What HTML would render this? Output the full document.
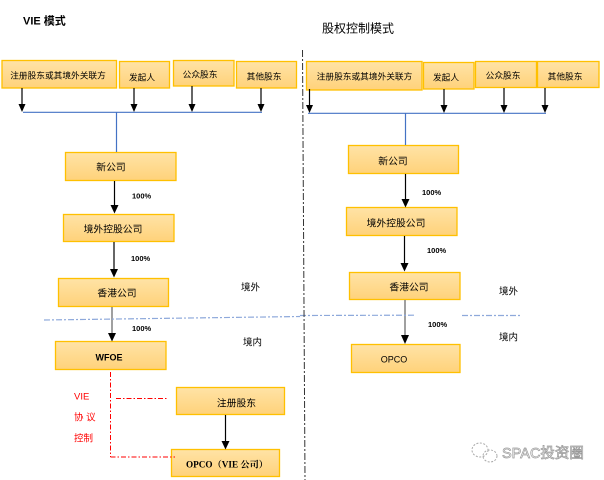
<!DOCTYPE html>
<html><head><meta charset="utf-8"><style>
html,body{margin:0;padding:0;background:#fff;}
svg{display:block;}
text{font-family:"Liberation Sans","Noto Sans CJK SC",sans-serif;}
</style></head><body>
<svg width="604" height="480" viewBox="0 0 604 480" xmlns="http://www.w3.org/2000/svg">
<defs>
<linearGradient id="g" x1="0" y1="0" x2="0" y2="1">
<stop offset="0" stop-color="#FFE3A6"/><stop offset="1" stop-color="#FFD27A"/>
</linearGradient>
</defs>
<rect width="604" height="480" fill="#fff"/>
<g fill="url(#g)" stroke="#FFC000" stroke-width="1.3">
<!-- left top -->
<rect x="2" y="60.5" width="114.5" height="27.5"/>
<rect x="119.5" y="61.5" width="50" height="26.5"/>
<rect x="173.5" y="60.5" width="60.5" height="25.5"/>
<rect x="236.5" y="61.5" width="60" height="26.5"/>
<!-- left chain -->
<rect x="65.5" y="152.5" width="110.5" height="28"/>
<rect x="63.5" y="214.5" width="110.5" height="27"/>
<rect x="58.5" y="278.5" width="110" height="28"/>
<rect x="55.5" y="341.5" width="110.5" height="28"/>
<rect x="176.5" y="387.5" width="108" height="27"/>
<rect x="171.5" y="449.5" width="108" height="27"/>
<!-- right top -->
<rect x="306.5" y="61.5" width="115.5" height="28.5"/>
<rect x="423.5" y="62.5" width="50.5" height="26.5"/>
<rect x="475.5" y="61.5" width="61" height="26"/>
<rect x="537.5" y="61.5" width="61.5" height="26"/>
<!-- right chain -->
<rect x="348.5" y="145.5" width="110" height="28"/>
<rect x="346.5" y="207.5" width="110.5" height="28"/>
<rect x="349.5" y="272.5" width="110.5" height="27"/>
<rect x="351.5" y="344.5" width="108.5" height="28"/>
</g>

<!-- blue connector lines -->
<g stroke="#4472C4" stroke-width="1.2" fill="none">
<line x1="23" y1="112.3" x2="262" y2="112.3"/>
<line x1="116.5" y1="112.3" x2="116.5" y2="152"/>
<line x1="308" y1="113.3" x2="546" y2="113.3"/>
<line x1="405.5" y1="113.3" x2="405.5" y2="145"/>
</g>

<!-- black arrows -->
<g stroke="#000" stroke-width="1.2">
<line x1="22" y1="88" x2="22" y2="104"/>
<line x1="134" y1="88" x2="134" y2="104"/>
<line x1="192" y1="86" x2="192" y2="104"/>
<line x1="261" y1="88" x2="261" y2="104"/>
<line x1="309.5" y1="89" x2="309.5" y2="105"/>
<line x1="444" y1="89" x2="444" y2="105"/>
<line x1="504" y1="88" x2="504" y2="105"/>
<line x1="545" y1="88" x2="545" y2="105"/>
<line x1="114.5" y1="181" x2="114.5" y2="206"/>
<line x1="114" y1="242" x2="114" y2="270"/>
<line x1="225.5" y1="415" x2="225.5" y2="442"/>
<line x1="405.5" y1="174" x2="405.5" y2="200"/>
<line x1="404.5" y1="236" x2="404.5" y2="264"/>
</g>
<g stroke="#777" stroke-width="1.4">
<line x1="112" y1="307" x2="112" y2="334"/>
<line x1="405" y1="300" x2="405" y2="336"/>
</g>
<g fill="#000">
<polygon points="18.5,104 25.5,104 22,112"/>
<polygon points="130.5,104 137.5,104 134,112"/>
<polygon points="188.5,104 195.5,104 192,112"/>
<polygon points="257.5,104 264.5,104 261,112"/>
<polygon points="306,105 313,105 309.5,113"/>
<polygon points="440.5,105 447.5,105 444,113"/>
<polygon points="500.5,105 507.5,105 504,113"/>
<polygon points="541.5,105 548.5,105 545,113"/>
<polygon points="110.5,205 118.5,205 114.5,213.5"/>
<polygon points="110,269 118,269 114,277.5"/>
<polygon points="108,333 116,333 112,341.5"/>
<polygon points="221.5,441 229.5,441 225.5,449.5"/>
<polygon points="401.5,199 409.5,199 405.5,207.5"/>
<polygon points="400.5,263 408.5,263 404.5,271.5"/>
<polygon points="401,335 409,335 405,344"/>
</g>

<!-- blue dash-dot boundary -->
<g stroke="#8EA9DB" stroke-width="1.2" fill="none" stroke-dasharray="6,2,2,2">
<line x1="44" y1="320" x2="300" y2="316.5"/>
<line x1="300" y1="315.5" x2="416" y2="315.2"/>
<line x1="462" y1="315.5" x2="522" y2="315.5"/>
</g>

<!-- vertical divider -->
<line x1="302.5" y1="50" x2="305" y2="480" stroke="#333" stroke-width="1" stroke-dasharray="7,2,2,2"/>

<!-- red dash-dot VIE control -->
<g stroke="#FF0000" stroke-width="1" fill="none" stroke-dasharray="5,2,1.5,2">
<line x1="110.5" y1="372" x2="110.5" y2="457"/>
<line x1="116" y1="398.5" x2="168" y2="398.5"/>
<line x1="110.5" y1="457" x2="175" y2="457"/>
</g>

<!-- titles -->
<text x="23" y="24.5" font-size="11" font-weight="bold" fill="#000">VIE 模式</text>
<text x="322" y="32.5" font-size="12" fill="#000">股权控制模式</text>

<!-- box labels -->
<g font-size="8.7" fill="#000" text-anchor="middle">
<text x="58" y="78.5">注册股东或其境外关联方</text>
<text x="142" y="80.5">发起人</text>
<text x="200" y="77.5">公众股东</text>
<text x="264" y="79.5">其他股东</text>
<text x="364.5" y="79.5">注册股东或其境外关联方</text>
<text x="446" y="80.5">发起人</text>
<text x="503" y="78.5">公众股东</text>
<text x="565" y="79.5">其他股东</text>
</g>
<g font-size="9.8" fill="#000" text-anchor="middle">
<text x="111" y="170.5">新公司</text>
<text x="113" y="232.5">境外控股公司</text>
<text x="117" y="296.5">香港公司</text>
<text x="236.5" y="406.5">注册股东</text>
<text x="393" y="164.5">新公司</text>
<text x="396" y="226.5">境外控股公司</text>
<text x="409" y="290.5">香港公司</text>
</g>
<text x="109" y="360.5" font-size="9" font-weight="bold" text-anchor="middle" fill="#000">WFOE</text>
<text x="394" y="362.5" font-size="9" text-anchor="middle" fill="#000">OPCO</text>
<text x="227" y="467.5" font-size="9.2" font-weight="bold" text-anchor="middle" fill="#000" style="font-family:'Liberation Serif','Noto Serif CJK SC',serif">OPCO（VIE 公司）</text>

<!-- percentages -->
<g font-size="7.5" font-weight="bold" fill="#000">
<text x="132" y="198.5">100%</text>
<text x="131" y="261">100%</text>
<text x="132" y="331">100%</text>
<text x="422" y="195">100%</text>
<text x="427" y="253">100%</text>
<text x="428" y="327">100%</text>
</g>

<!-- 境外/境内 -->
<g font-size="9.5" fill="#000">
<text x="241" y="290.5">境外</text>
<text x="243" y="345.5">境内</text>
<text x="499" y="294.5">境外</text>
<text x="499" y="340.5">境内</text>
</g>

<!-- red labels -->
<g font-size="9.5" fill="#FF0000">
<text x="74" y="399.5">VIE</text>
<text x="74" y="420.5">协 议</text>
<text x="74" y="441.5">控制</text>
</g>

<!-- watermark -->
<g fill="none" stroke="#aaa" stroke-width="1" stroke-dasharray="2,1.5">
<ellipse cx="480" cy="450" rx="8" ry="7"/>
<ellipse cx="490" cy="456" rx="7" ry="6"/>
</g>
<text x="502" y="458" font-size="14.5" fill="#fff" stroke="#999" stroke-width="0.7">SPAC投资圈</text>
</svg>
</body></html>
